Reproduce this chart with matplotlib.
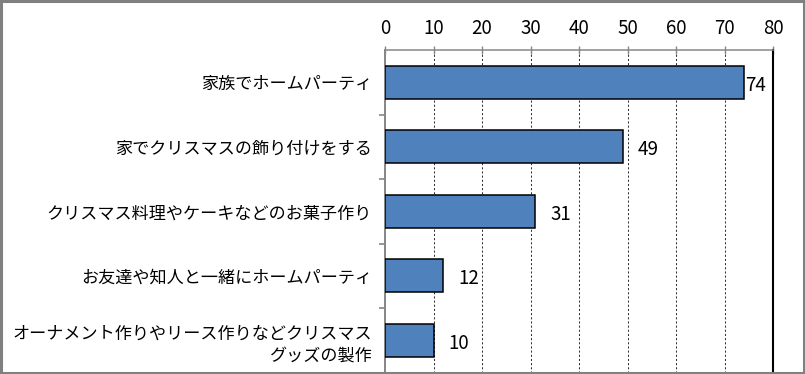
import matplotlib
matplotlib.use("Agg")
import matplotlib.pyplot as plt
from matplotlib.patches import Rectangle
from matplotlib.ticker import FixedLocator

plt.rcParams['font.family'] = ['Noto Sans CJK JP', 'DejaVu Sans']

categories = [
    "家族でホームパーティ",
    "家でクリスマスの飾り付けをする",
    "クリスマス料理やケーキなどのお菓子作り",
    "お友達や知人と一緒にホームパーティ",
    "オーナメント作りやリース作りなどクリスマス\nグッズの製作",
]
values = [74, 49, 31, 12, 10]
xticks = [0, 10, 20, 30, 40, 50, 60, 70, 80]

W, H = 805, 374
fig = plt.figure(figsize=(W / 100, H / 100), dpi=100)
ax = fig.add_axes([385 / W, 1 - 372.5 / H, (773 - 385) / W, (372.5 - 50) / H])

ypos = list(range(len(categories)))
ax.barh(ypos, values, height=0.51, color="#4F81BD", edgecolor="black",
        linewidth=1.1, zorder=3)

ax.set_xlim(0, 80)
ax.set_ylim(len(categories) - 0.5, -0.5)

# x axis on top
ax.xaxis.set_ticks_position("top")
ax.xaxis.set_label_position("top")
ax.set_xticks(xticks)
ax.set_xticklabels([str(t) for t in xticks], fontsize=13.5)
ax.tick_params(axis="x", direction="inout", length=6, width=1, color="#868686",
               pad=5, labelcolor="black")

# y axis: labels at centers, tick marks at boundaries
ax.set_yticks(ypos)
ax.set_yticklabels(categories, fontsize=12.3, ha="right", linespacing=1.3)
ax.tick_params(axis="y", which="major", length=0, pad=9.4)
ax.yaxis.set_minor_locator(FixedLocator([i + 0.5 for i in range(len(categories))]))
ax.tick_params(axis="y", which="minor", direction="out", length=4.5, width=1.2,
               color="#868686")

# grid
for t in xticks[1:-1]:
    ax.axvline(t, color="#333333", linewidth=0.75, linestyle=(0, (2, 2)), zorder=1)

ax.spines["bottom"].set_visible(False)
ax.spines["top"].set_color("#868686")
ax.spines["top"].set_linewidth(1.1)
ax.spines["left"].set_color("#868686")
ax.spines["left"].set_linewidth(1.4)
ax.spines["right"].set_color("black")
ax.spines["right"].set_linewidth(1.5)

# value labels
for y, v in zip(ypos, values):
    off = 1.0 if v > 72 else 11.0
    ax.annotate(str(v), xy=(v, y), xytext=(off, -2.0), textcoords="offset points",
                ha="left", va="center", fontsize=13.5, color="black", zorder=4)

# figure frame
fig.patches.append(Rectangle((0.0015, 0.003), 0.997, 0.994, transform=fig.transFigure,
                             fill=False, edgecolor="#808080", linewidth=2.2))

fig.savefig("out.png", dpi=100)
